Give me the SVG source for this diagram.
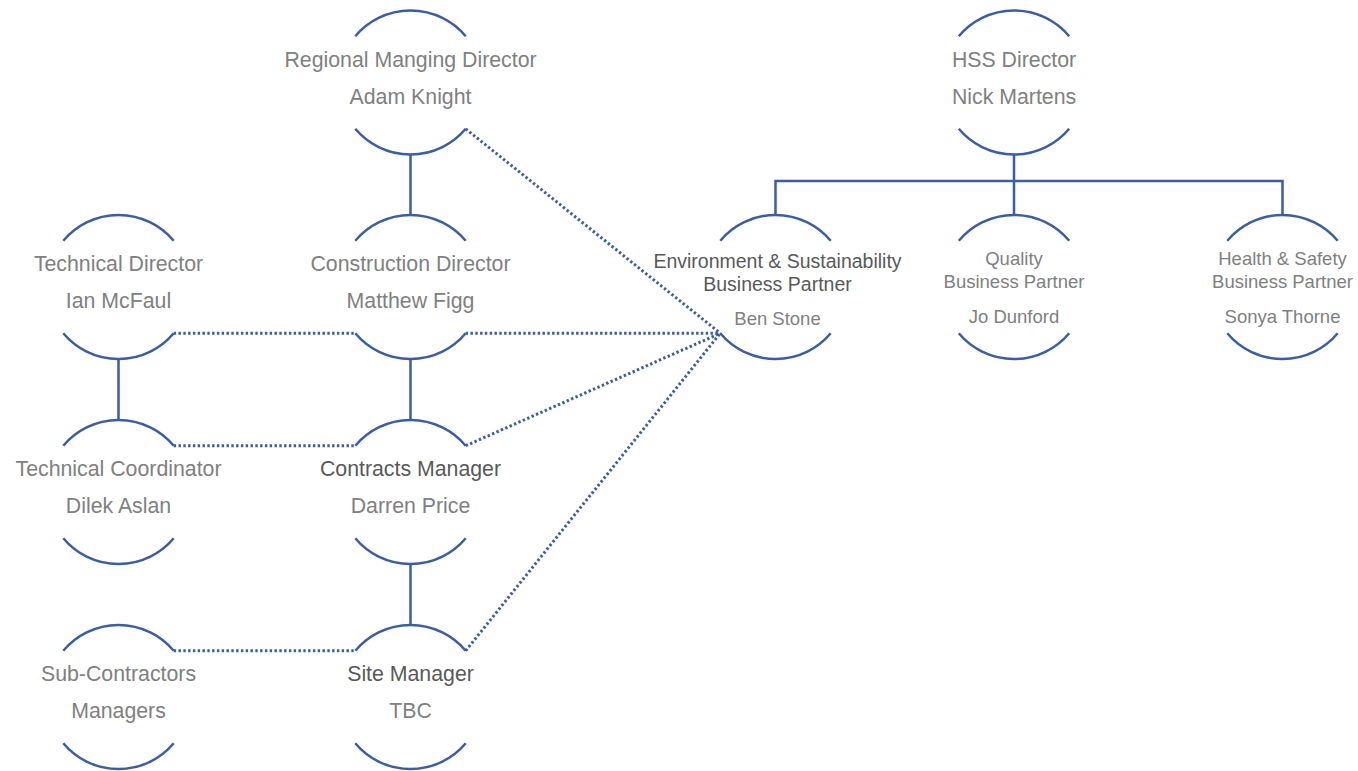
<svg xmlns="http://www.w3.org/2000/svg" xmlns:xlink="http://www.w3.org/1999/xlink" width="1358" height="771" viewBox="0 0 1358 771">
<style>
.arc{fill:none;stroke:#3a5da5;stroke-width:2.5}
.solid{fill:none;stroke:#3a5da5;stroke-width:2.5}
.dot{fill:none;stroke:#3a5da5;stroke-width:3;stroke-dasharray:2.4 2.4}
text{font-family:"Liberation Sans",Arial,sans-serif;text-anchor:middle;fill:#808080}
.t2{font-size:21.3px}
.t3{font-size:18.5px}
.te{font-size:19.5px}
.dk{fill:#595959}
</style>
<defs>
<path id="arcs" d="M-55.2,-46.3 A72,72 0 0 1 55.2,-46.3 M-55.2,46.3 A72,72 0 0 0 55.2,46.3"/>
</defs>
<rect width="1358" height="771" fill="#ffffff"/>
<g id="connectors">
<path class="solid" d="M410.5,154.5 V215 M410.5,359 V420 M410.5,564 V625 M118.5,359 V420"/>
<path class="solid" d="M1014,154.5 V181 M775.5,215 V181 H1282.5 V215 M1014,181 V215"/>
<path class="dot" d="M465.7,128.8 L720.3,333.3"/>
<path class="dot" d="M173.7,333.3 H355.3"/>
<path class="dot" d="M465.7,333.3 H720.3"/>
<path class="dot" d="M173.7,445.7 H355.3"/>
<path class="dot" d="M465.7,445.7 L720.3,333.3"/>
<path class="dot" d="M173.7,650.7 H355.3"/>
<path class="dot" d="M465.7,650.7 L720.3,333.3"/>
</g>
<g id="n-rmd" transform="translate(410.5,82.5)">
<use href="#arcs" class="arc"/>
<text class="t2" y="-16">Regional Manging Director</text>
<text class="t2" y="21">Adam Knight</text>
</g>
<g id="n-hss" transform="translate(1014,82.5)">
<use href="#arcs" class="arc"/>
<text class="t2" y="-16">HSS Director</text>
<text class="t2" y="21">Nick Martens</text>
</g>
<g id="n-td" transform="translate(118.5,287)">
<use href="#arcs" class="arc"/>
<text class="t2" y="-16">Technical Director</text>
<text class="t2" y="21">Ian McFaul</text>
</g>
<g id="n-cd" transform="translate(410.5,287)">
<use href="#arcs" class="arc"/>
<text class="t2" y="-16">Construction Director</text>
<text class="t2" y="21">Matthew Figg</text>
</g>
<g id="n-env" transform="translate(777.5,287)">
<use href="#arcs" class="arc" transform="translate(-2,0)"/>
<text class="te dk" y="-19">Environment &amp; Sustainability</text>
<text class="te dk" y="4">Business Partner</text>
<text class="t3" y="38">Ben Stone</text>
</g>
<g id="n-qual" transform="translate(1014,287)">
<use href="#arcs" class="arc"/>
<text class="t3" y="-22">Quality</text>
<text class="t3" y="1">Business Partner</text>
<text class="t3" y="36">Jo Dunford</text>
</g>
<g id="n-hs" transform="translate(1282.5,287)">
<use href="#arcs" class="arc"/>
<text class="t3" y="-22">Health &amp; Safety</text>
<text class="t3" y="1">Business Partner</text>
<text class="t3" y="36">Sonya Thorne</text>
</g>
<g id="n-tc" transform="translate(118.5,492)">
<use href="#arcs" class="arc"/>
<text class="t2" y="-16">Technical Coordinator</text>
<text class="t2" y="21">Dilek Aslan</text>
</g>
<g id="n-cm" transform="translate(410.5,492)">
<use href="#arcs" class="arc"/>
<text class="t2 dk" y="-16">Contracts Manager</text>
<text class="t2" y="21">Darren Price</text>
</g>
<g id="n-sc" transform="translate(118.5,697)">
<use href="#arcs" class="arc"/>
<text class="t2" y="-16">Sub-Contractors</text>
<text class="t2" y="21">Managers</text>
</g>
<g id="n-sm" transform="translate(410.5,697)">
<use href="#arcs" class="arc"/>
<text class="t2 dk" y="-16">Site Manager</text>
<text class="t2" y="21">TBC</text>
</g>
</svg>
